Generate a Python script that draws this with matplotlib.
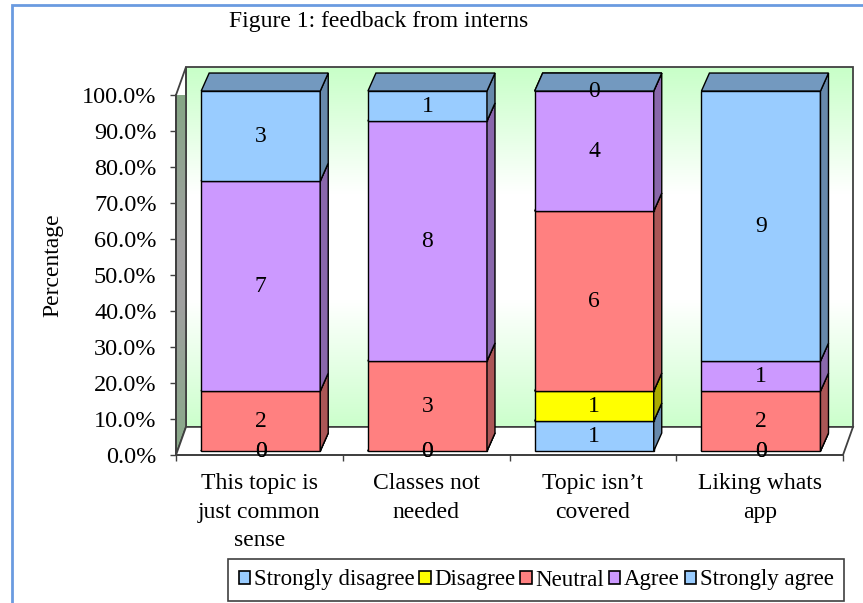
import numpy as np
import matplotlib
matplotlib.use("Agg")
import matplotlib.pyplot as plt
from matplotlib.patches import Polygon, Patch, Rectangle
from matplotlib.colors import LinearSegmentedColormap, to_rgb

plt.rcParams['font.family'] = ['Liberation Serif', 'DejaVu Serif']

categories = ["This topic is\njust common\nsense", "Classes not\nneeded",
              "Topic isn\u2019t\ncovered", "Liking whats\napp"]
series = ["Strongly disagree", "Disagree", "Neutral", "Agree", "Strongly agree"]
strongly_disagree = [0, 0, 1, 0]
disagree = [0, 0, 1, 0]
neutral = [2, 3, 6, 2]
agree = [7, 8, 4, 1]
strongly_agree = [3, 1, 0, 9]
colors = ["#99CCFF", "#FFFF00", "#FF8080", "#CC99FF", "#99CCFF"]

counts = np.array([strongly_disagree, disagree, neutral, agree, strongly_agree], dtype=float)
pct = counts / counts.sum(axis=0) * 100

fig = plt.figure(figsize=(8.63, 6.03), dpi=100)
ax = fig.add_axes([176 / 863, 1 - 455 / 603, 667 / 863, 360 / 603])
ax.set_xlim(0, 4)
ax.set_ylim(0, 100)
ax.patch.set_alpha(0)

# depth of the walls and of the bars, in data units
wdx, wdy = 0.06, 7.8
bdx, bdy = 0.048, 5.0
fx, fy = 0.008, 1.1   # bars sit a little back from the front edge
width = 0.714


def shade(c, f):
    r, g, b = to_rgb(c)
    return (r * f, g * f, b * f)


# back wall with the green-white-green fill
wall_cmap = LinearSegmentedColormap.from_list(
    "wall", [(0, "#C8FFC8"), (0.35, "#FFFFFF"), (0.65, "#FFFFFF"), (1, "#CCFFCC")])
grad = np.linspace(0, 1, 256).reshape(-1, 1)
im = ax.imshow(grad, cmap=wall_cmap, aspect='auto', origin='upper',
               extent=[wdx, 4 + wdx, wdy, 100 + wdy], zorder=0)
im.set_clip_on(False)
ax.add_patch(Rectangle((wdx, wdy), 4, 100, fill=False, ec="#404040", lw=1.3,
                       clip_on=False, zorder=1))

# left side wall
side_cmap = LinearSegmentedColormap.from_list(
    "side", [(0, "#80A880"), (0.45, "#A0A0A0"), (0.6, "#A0A0A0"), (1, "#88AA88")])
side_poly = Polygon([(0, 0), (0, 100), (wdx, 100 + wdy), (wdx, wdy)], closed=True,
                    fc="none", ec="#404040", lw=1.3, clip_on=False, zorder=2)
ax.add_patch(side_poly)
im2 = ax.imshow(grad, cmap=side_cmap, aspect='auto', origin='upper',
                extent=[0, wdx, 0, 100 + wdy], zorder=1)
im2.set_clip_path(side_poly)

# floor
ax.add_patch(Polygon([(0, 0), (4, 0), (4 + wdx, wdy), (wdx, wdy)], closed=True,
                     fc="white", ec="#404040", lw=1.3, clip_on=False, zorder=2))

# stacked 3d bars
for i in range(len(categories)):
    x0 = i + 0.5 - width / 2 + fx
    x1 = x0 + width
    bottom = fy
    for s in range(len(series)):
        h = pct[s, i]
        top = bottom + h
        c = colors[s]
        if h > 0:
            ax.add_patch(Polygon([(x0, bottom), (x1, bottom), (x1, top), (x0, top)],
                                 fc=c, ec="black", lw=1, clip_on=False, zorder=3))
            ax.add_patch(Polygon([(x1, bottom), (x1 + bdx, bottom + bdy),
                                  (x1 + bdx, top + bdy), (x1, top)],
                                 fc=shade(c, 0.67), ec="black", lw=1, clip_on=False, zorder=3))
        ax.add_patch(Polygon([(x0, top), (x1, top), (x1 + bdx, top + bdy),
                              (x0 + bdx, top + bdy)],
                             fc=shade(c, 0.75), ec="black", lw=1, clip_on=False, zorder=3))
        ax.text((x0 + x1) / 2, (bottom + top) / 2, f"{int(counts[s, i])}",
                ha='center', va='center', fontsize=17, zorder=5)
        bottom = top

# axes
for side in ['top', 'right']:
    ax.spines[side].set_visible(False)
for side in ['left', 'bottom']:
    ax.spines[side].set_color("#404040")
    ax.spines[side].set_linewidth(1.3)
    ax.spines[side].set_zorder(4)

yt = np.arange(0, 101, 10)
ax.set_yticks(yt)
ax.set_yticklabels([f"{v:.1f}%" for v in yt])
ax.tick_params(axis='y', direction='out', length=4.5, width=1, color="#404040",
               labelsize=17.5, pad=9.5)
ax.set_xticks(np.arange(0, 5))
ax.set_xticklabels([])
ax.set_xticks(np.arange(len(categories)) + 0.5, minor=True)
ax.set_xticklabels(categories, minor=True, fontsize=17, linespacing=1.47)
ax.tick_params(axis='x', which='minor', length=0, pad=13)
ax.tick_params(axis='x', which='major', direction='out', length=4.5, width=1, color="#404040")

fig.text(53 / 863, 1 - 265 / 603, "Percentage", rotation=90, ha='center', va='center',
         fontsize=17)
fig.text(379 / 863, 1 - 21 / 603, "Figure 1: feedback from interns", ha='center',
         va='center', fontsize=17)

handles = [Patch(fc=c, ec="black", lw=1.2) for c in colors]
leg = fig.legend(handles, series, loc='center', bbox_to_anchor=(536 / 863, 1 - 580 / 603),
                 ncol=5, fontsize=16.5, handlelength=0.5, handleheight=0.5,
                 handletextpad=0.15, columnspacing=0.22, borderpad=0.45,
                 fancybox=False, framealpha=1, edgecolor="#404040")
leg.get_frame().set_linewidth(1.2)

# outer border of the chart area
fig.add_artist(Rectangle((12 / 863, -0.05), 1.1, 1 - 5 / 603 + 0.05, transform=fig.transFigure,
                         fill=False, ec="#6A9BE0", lw=2))

fig.savefig("out.png", dpi=100)
